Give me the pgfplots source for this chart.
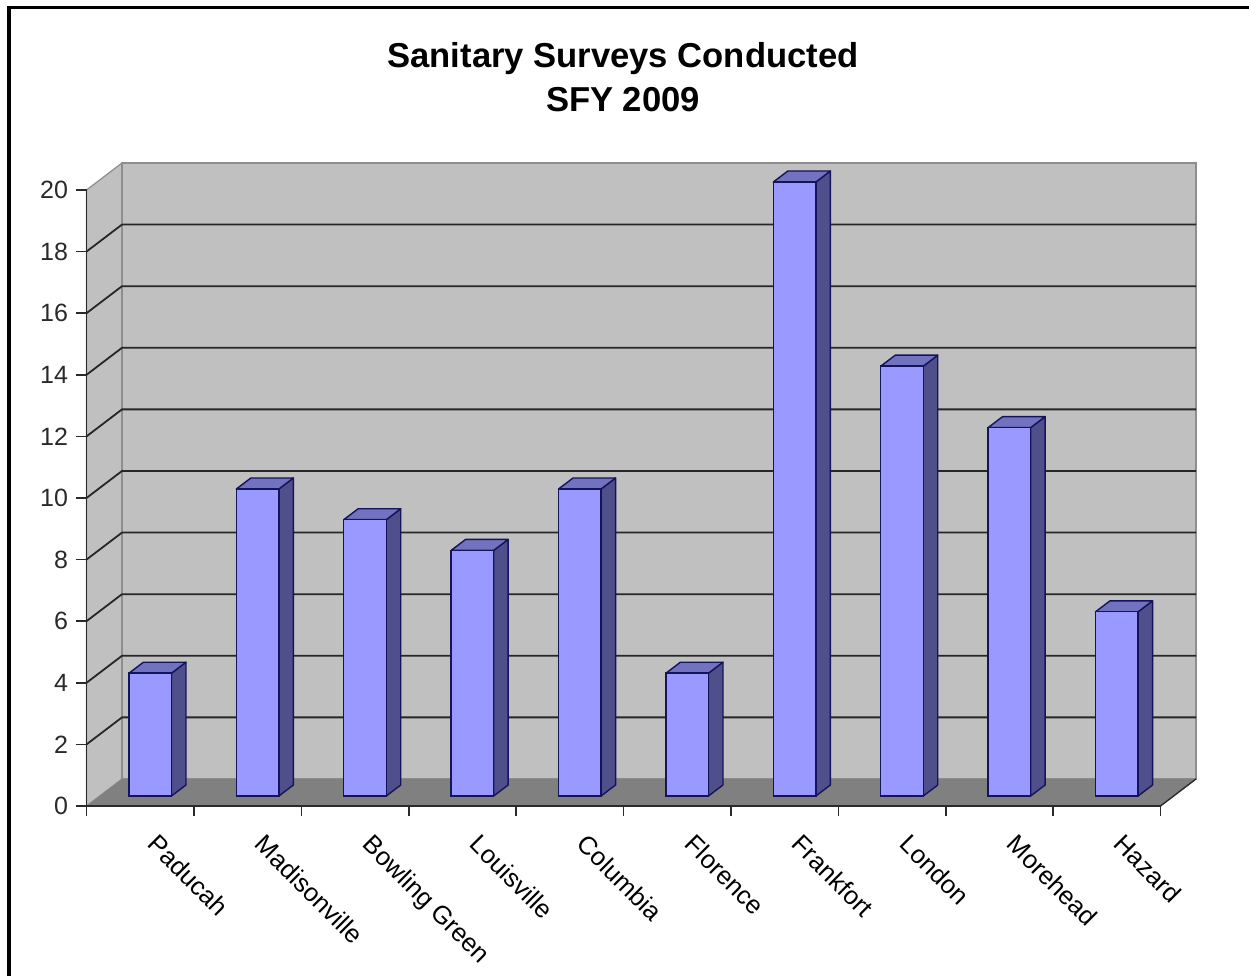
\documentclass[border=0pt]{standalone}
\usepackage{pgfplots}
\usepackage{pgfplotstable}
\usepackage{fontspec}
\setmainfont{Liberation Sans}
\pgfplotsset{compat=1.18}

\definecolor{wall}{HTML}{C0C0C0}
\definecolor{walledge}{HTML}{8E8E8E}
\definecolor{floorgrey}{HTML}{808080}
\definecolor{barfront}{HTML}{9999FF}
\definecolor{barside}{HTML}{4F4F8C}
\definecolor{bartop}{HTML}{7272C0}
\definecolor{baredge}{HTML}{14145A}
\definecolor{inkgrey}{HTML}{2A2A2A}

% position: centre of the category; val: surveys conducted
\pgfplotstableread{
pos val
0.5 4
1.5 10
2.5 9
3.5 8
4.5 10
5.5 4
6.5 20
7.5 14
8.5 12
9.5 6
}\surveys

\begin{document}
\begin{tikzpicture}[x=1pt,y=1pt]
\path[use as bounding box] (0,0) rectangle (1249,976);
\fill[white] (0,0) rectangle (1249,976);
% outer frame: top and left edges only
\fill[black] (7,0) rectangle (10.5,970);
\fill[black] (7,966.5) rectangle (1249,970);

\node[font=\fontsize{34.6}{44}\selectfont\bfseries, text=black, align=center, anchor=center]
  at (623,899) {Sanitary Surveys Conducted\\SFY 2009};

% walls, floor, gridlines and the two axes
\begin{axis}[
  at={(86.5pt,170pt)}, anchor=south west,
  scale only axis, width=1074pt, height=616pt,
  xmin=0, xmax=10, ymin=0, ymax=20,
  clip=false, axis on top,
  axis x line*=bottom, axis y line*=left,
  axis line style={inkgrey, line width=1.6pt, -},
  tick style={inkgrey, line width=1.6pt},
  tick align=outside,
  xtick={0,1,2,3,4,5,6,7,8,9,10},
  xticklabels={},
  ytick={0,2,4,6,8,10,12,14,16,18,20},
  major tick length=10pt,
  y tick label style={font=\fontsize{25}{28}\selectfont, text=inkgrey, xshift=-5pt},
  /pgf/number format/assume math mode=true,
  extra x ticks={0.5,1.5,2.5,3.5,4.5,5.5,6.5,7.5,8.5,9.5},
  extra x tick labels={Paducah,Madisonville,Bowling Green,Louisville,Columbia,Florence,Frankfort,London,Morehead,Hazard},
  extra x tick style={
    major tick length=0pt,
    tick label style={font=\fontsize{25.5}{28}\selectfont, text=black,
      rotate=-45, anchor=north west, xshift=29pt, yshift=-2pt}},
]
  % side wall and back wall
  \addplot[fill=wall, draw=walledge, line width=1.2pt, mark=none]
    coordinates {(0,0) (0.3305,0.877) (0.3305,20.877) (0,20)} --cycle;
  \addplot[fill=wall, draw=walledge, line width=1.6pt, mark=none]
    coordinates {(0.3305,0.877) (10.3305,0.877) (10.3305,20.877) (0.3305,20.877)} --cycle;
  % floor
  \addplot[fill=floorgrey, draw=none, mark=none]
    coordinates {(0,0) (10,0) (10.3305,0.877) (0.3305,0.877)} --cycle;
  \addplot[inkgrey, line width=1.4pt, mark=none] coordinates {(10,0) (10.3305,0.877)};
  % gridlines running round the side wall and along the back wall
  \pgfplotsinvokeforeach{2,4,...,18}{
    \addplot[black!85, line width=1.8pt, mark=none]
      coordinates {(0,#1) (0.3305,#1+0.877) (10.3305,#1+0.877)};
  }
\end{axis}

% the bars stand a little forward of the back wall
\begin{axis}[
  at={(96.5pt,180pt)}, anchor=south west,
  scale only axis, width=1074pt, height=614pt,
  xmin=0, xmax=10, ymin=0, ymax=20,
  clip=false, hide axis,
]
  \pgfplotsinvokeforeach{0,...,9}{
    \pgfplotstablegetelem{#1}{pos}\of\surveys
    \pgfmathsetmacro{\xl}{\pgfplotsretval-0.198}
    \pgfmathsetmacro{\xr}{\pgfplotsretval+0.198}
    \pgfmathsetmacro{\xlb}{\xl+0.135}
    \pgfmathsetmacro{\xrb}{\xr+0.135}
    \pgfplotstablegetelem{#1}{val}\of\surveys
    \pgfmathsetmacro{\vf}{\pgfplotsretval}
    \pgfmathsetmacro{\vb}{\pgfplotsretval+0.358}
    \addplot[fill=barside, draw=baredge, line width=1.4pt, line join=round, mark=none]
      coordinates {(\xr,0) (\xrb,0.358) (\xrb,\vb) (\xr,\vf)} --cycle;
    \addplot[fill=bartop, draw=baredge, line width=1.4pt, line join=round, mark=none]
      coordinates {(\xl,\vf) (\xr,\vf) (\xrb,\vb) (\xlb,\vb)} --cycle;
  }
  \addplot[ybar, bar width=42.5pt, bar shift=0pt, fill=barfront, draw=baredge,
           line width=1.4pt, mark=none]
    table[x=pos, y=val] {\surveys};
\end{axis}
\end{tikzpicture}
\end{document}
